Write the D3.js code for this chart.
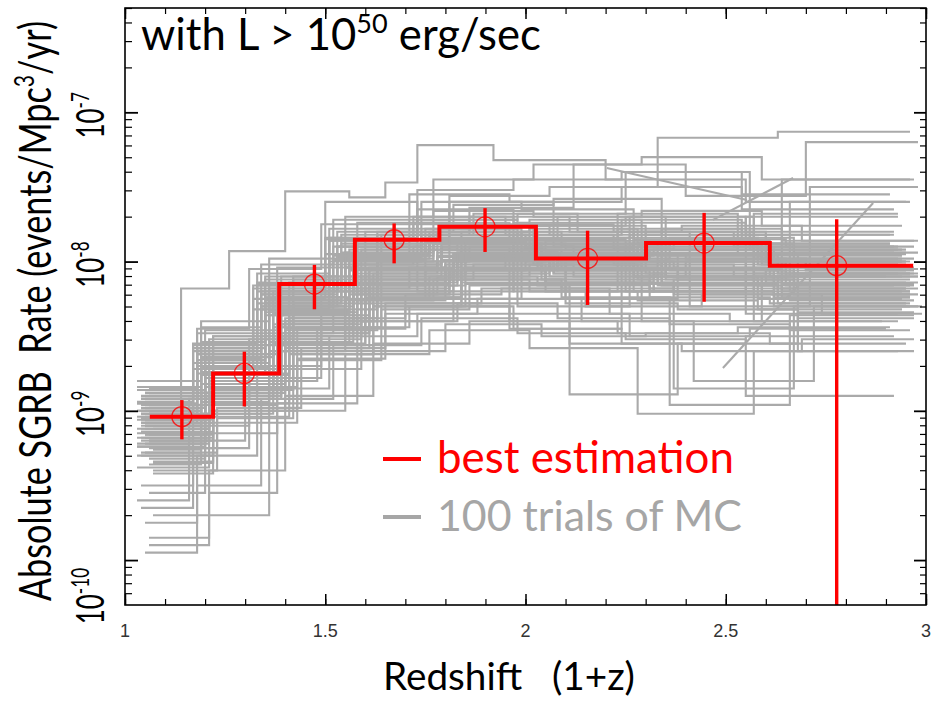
<!DOCTYPE html>
<html><head><meta charset="utf-8">
<script src="https://cdn.jsdelivr.net/npm/d3@7"></script>
<style>body{margin:0;background:#fff}text{white-space:pre}</style>
</head><body>
<svg id="chart" width="931" height="701"></svg>
<script>
// ---------------- data ----------------
const xTickValues = [1, 1.5, 2, 2.5, 3];
const xTickLabels = ["1", "1.5", "2", "2.5", "3"];
const yTickValues = [1e-10, 1e-9, 1e-8, 1e-7];
const yTickExponents = ["-10", "-9", "-8", "-7"];

// best estimation (step histogram)
const bestEdges = [1.062, 1.220, 1.385, 1.574, 1.785, 2.026, 2.301, 2.610, 2.968];
const bestRates = [9.14e-10, 1.78e-9, 7.07e-9, 1.40e-8, 1.71e-8, 1.05e-8, 1.33e-8, 9.38e-9];
const pointX = [1.142, 1.298, 1.473, 1.672, 1.899, 2.155, 2.446, 2.777];
const pointRate = [9.14e-10, 1.78e-9, 7.07e-9, 1.40e-8, 1.71e-8, 1.05e-8, 1.33e-8, 9.38e-9];
const errLow = [6.44e-10, 1.07e-9, 4.79e-9, 9.73e-9, 1.16e-8, 5.12e-9, 5.38e-9, 1e-12];
const errHigh = [1.18e-9, 2.49e-9, 9.5e-9, 1.80e-8, 2.28e-8, 1.61e-8, 2.12e-8, 1.92e-8];

// 100 Monte-Carlo trials: bin edges (1+z) and log10 rates
const mcEdges = [
[1.04,1.19,1.36,1.55,1.77,2.02,2.28,2.58,2.95],[1.05,1.21,1.40,1.60,1.82,2.06,2.33,2.64,2.97],
[1.03,1.18,1.34,1.52,1.74,1.98,2.25,2.55,2.93],[1.06,1.22,1.39,1.58,1.80,2.04,2.31,2.62,2.96],
[1.04,1.20,1.37,1.56,1.79,2.03,2.30,2.61,2.98],[1.05,1.17,1.33,1.50,1.72,1.95,2.22,2.52,2.91],
[1.07,1.23,1.42,1.62,1.85,2.10,2.38,2.68,2.97],[1.03,1.19,1.35,1.54,1.76,2.00,2.27,2.57,2.94],
[1.05,1.21,1.38,1.57,1.78,2.02,2.29,2.60,2.96],[1.04,1.20,1.41,1.63,1.86,2.12,2.40,2.70,2.98],
[1.06,1.18,1.31,1.49,1.71,1.96,2.24,2.54,2.92],[1.04,1.22,1.43,1.65,1.88,2.14,2.42,2.72,2.99],
[1.05,1.19,1.37,1.59,1.83,2.08,2.35,2.66,2.95],[1.03,1.16,1.30,1.48,1.70,1.97,2.26,2.56,2.90],
[1.06,1.20,1.36,1.54,1.75,1.99,2.27,2.59,2.94],[1.04,1.21,1.39,1.61,1.84,2.09,2.36,2.65,2.97],
[1.05,1.18,1.35,1.53,1.73,1.97,2.23,2.53,2.92],[1.07,1.22,1.41,1.60,1.81,2.05,2.32,2.63,2.96],
[1.04,1.19,1.34,1.51,1.72,1.96,2.24,2.55,2.93],[1.03,1.20,1.38,1.58,1.81,2.07,2.34,2.64,2.98],
[1.05,1.17,1.32,1.50,1.71,1.95,2.22,2.53,2.91],[1.06,1.21,1.40,1.62,1.86,2.11,2.39,2.69,2.97],
[1.04,1.18,1.36,1.56,1.78,2.03,2.30,2.60,2.95],[1.05,1.22,1.42,1.64,1.87,2.13,2.41,2.71,2.98],
[1.03,1.19,1.37,1.55,1.76,2.01,2.28,2.58,2.94],[1.06,1.20,1.35,1.53,1.74,1.99,2.26,2.57,2.93],
[1.04,1.23,1.44,1.65,1.89,2.15,2.44,2.74,2.99],[1.05,1.18,1.33,1.51,1.73,1.98,2.25,2.56,2.92],
[1.07,1.21,1.39,1.59,1.82,2.06,2.33,2.63,2.96],[1.04,1.17,1.31,1.49,1.70,1.94,2.21,2.51,2.89],
[1.05,1.20,1.38,1.57,1.79,2.04,2.31,2.61,2.95],[1.03,1.19,1.36,1.55,1.77,2.02,2.29,2.59,2.97],
[1.06,1.22,1.40,1.61,1.83,2.08,2.35,2.66,2.96],[1.04,1.18,1.34,1.52,1.75,2.00,2.27,2.58,2.94],
[1.05,1.21,1.41,1.63,1.85,2.10,2.37,2.67,2.98],[1.03,1.17,1.32,1.50,1.72,1.96,2.23,2.54,2.91],
[1.06,1.20,1.37,1.58,1.80,2.05,2.32,2.62,2.95],[1.04,1.19,1.35,1.54,1.76,2.01,2.28,2.59,2.93],
[1.05,1.22,1.43,1.64,1.87,2.12,2.40,2.70,2.97],[1.07,1.18,1.33,1.51,1.73,1.97,2.24,2.55,2.92],
[1.04,1.21,1.39,1.60,1.82,2.07,2.34,2.64,2.96],[1.05,1.20,1.36,1.55,1.78,2.03,2.30,2.60,2.95],
[1.03,1.16,1.31,1.49,1.71,1.95,2.22,2.52,2.90],[1.06,1.22,1.42,1.62,1.84,2.09,2.36,2.67,2.98],
[1.04,1.19,1.37,1.57,1.79,2.04,2.31,2.62,2.96],[1.05,1.18,1.34,1.53,1.74,1.98,2.26,2.57,2.93],
[1.03,1.21,1.40,1.61,1.84,2.10,2.38,2.68,2.97],[1.06,1.20,1.38,1.56,1.77,2.01,2.28,2.59,2.94],
[1.04,1.17,1.33,1.52,1.75,2.00,2.27,2.58,2.92],[1.05,1.22,1.41,1.63,1.86,2.11,2.39,2.69,2.98],
[1.04,1.19,1.35,1.56,1.79,2.05,2.33,2.63,2.96],[1.06,1.21,1.38,1.58,1.80,2.04,2.30,2.61,2.95],
[1.03,1.18,1.33,1.51,1.74,1.99,2.27,2.57,2.93],[1.05,1.22,1.42,1.63,1.85,2.10,2.37,2.66,2.97],
[1.04,1.20,1.37,1.55,1.76,2.00,2.27,2.58,2.94],[1.07,1.19,1.36,1.57,1.81,2.06,2.34,2.64,2.96],
[1.05,1.17,1.32,1.50,1.73,1.97,2.24,2.55,2.92],[1.03,1.21,1.40,1.60,1.82,2.07,2.35,2.65,2.97],
[1.06,1.20,1.38,1.59,1.83,2.08,2.36,2.66,2.96],[1.04,1.18,1.35,1.54,1.76,2.01,2.29,2.59,2.94],
[1.05,1.22,1.41,1.61,1.83,2.08,2.35,2.65,2.98],[1.03,1.19,1.34,1.52,1.73,1.97,2.24,2.54,2.91],
[1.06,1.21,1.39,1.59,1.81,2.05,2.32,2.62,2.95],[1.04,1.17,1.33,1.52,1.75,2.00,2.28,2.59,2.93],
[1.05,1.20,1.37,1.57,1.80,2.05,2.33,2.63,2.96],[1.07,1.22,1.43,1.64,1.86,2.11,2.38,2.68,2.97],
[1.04,1.18,1.34,1.53,1.75,1.99,2.26,2.56,2.93],[1.05,1.21,1.39,1.58,1.79,2.03,2.30,2.60,2.95],
[1.03,1.20,1.38,1.60,1.84,2.09,2.37,2.67,2.98],[1.06,1.19,1.35,1.54,1.77,2.02,2.29,2.59,2.94],
[1.04,1.22,1.42,1.62,1.85,2.10,2.38,2.68,2.97],[1.05,1.18,1.36,1.55,1.76,2.01,2.28,2.57,2.93],
[1.03,1.17,1.32,1.51,1.74,1.99,2.27,2.58,2.92],[1.06,1.21,1.40,1.61,1.83,2.07,2.34,2.64,2.96],
[1.04,1.20,1.37,1.56,1.78,2.03,2.30,2.61,2.95],[1.05,1.19,1.35,1.55,1.78,2.04,2.32,2.62,2.96],
[1.07,1.22,1.41,1.62,1.84,2.09,2.36,2.66,2.97],[1.04,1.18,1.33,1.51,1.73,1.98,2.25,2.55,2.92],
[1.05,1.21,1.38,1.57,1.79,2.04,2.31,2.61,2.95],[1.03,1.20,1.39,1.59,1.82,2.08,2.36,2.67,2.98],
[1.06,1.19,1.36,1.55,1.77,2.02,2.29,2.60,2.94],[1.04,1.17,1.31,1.49,1.71,1.96,2.23,2.53,2.91],
[1.05,1.22,1.42,1.63,1.86,2.12,2.40,2.70,2.98],[1.03,1.20,1.37,1.57,1.80,2.05,2.33,2.63,2.96],
[1.06,1.18,1.34,1.53,1.75,2.00,2.27,2.57,2.93],[1.04,1.21,1.40,1.60,1.82,2.06,2.33,2.63,2.96],
[1.05,1.19,1.36,1.56,1.78,2.03,2.31,2.61,2.95],[1.07,1.20,1.38,1.58,1.81,2.06,2.34,2.64,2.97],
[1.04,1.22,1.41,1.61,1.84,2.09,2.37,2.67,2.98],[1.05,1.18,1.34,1.52,1.74,1.98,2.25,2.55,2.92],
[1.03,1.19,1.35,1.55,1.77,2.02,2.30,2.60,2.95],[1.06,1.21,1.39,1.59,1.82,2.07,2.35,2.65,2.96],
[1.04,1.17,1.33,1.51,1.73,1.97,2.24,2.54,2.91],[1.05,1.20,1.37,1.57,1.80,2.05,2.32,2.62,2.96],
[1.03,1.22,1.42,1.63,1.85,2.10,2.37,2.67,2.97],[1.06,1.19,1.36,1.55,1.77,2.01,2.28,2.58,2.94],
[1.04,1.18,1.35,1.54,1.76,2.01,2.29,2.60,2.95],[1.05,1.21,1.40,1.60,1.83,2.08,2.35,2.65,2.97],
[1.07,1.20,1.38,1.58,1.81,2.06,2.33,2.63,2.96],
[1.03,1.14,1.26,1.40,1.56,1.65,1.73,1.92,2.20,2.55,2.96]
];
const mcLogRates = [
[-9.02,-8.71,-8.30,-7.98,-7.88,-7.95,-7.90,-8.02],[-9.15,-8.85,-8.45,-8.10,-7.95,-8.05,-8.10,-8.15],
[-8.95,-8.60,-8.22,-7.90,-7.80,-7.85,-8.20,-7.70],[-9.25,-8.90,-8.50,-8.20,-8.02,-8.12,-8.20,-8.30],
[-9.08,-8.78,-8.35,-8.05,-7.92,-8.00,-7.95,-8.10],[-8.90,-8.55,-8.15,-7.85,-7.70,-7.75,-7.80,-7.90],
[-9.40,-9.05,-8.62,-8.30,-8.15,-8.25,-7.95,-8.60],[-9.00,-8.68,-8.28,-7.95,-7.82,-7.90,-7.85,-7.98],
[-9.12,-8.80,-8.40,-8.08,-7.97,-8.02,-8.05,-8.12],[-9.05,-8.75,-8.38,-8.00,-7.90,-7.95,-7.98,-8.05],
[-8.85,-8.45,-8.05,-7.75,-7.55,-7.60,-7.50,-7.65],[-9.30,-9.00,-8.65,-8.35,-8.25,-8.40,-8.80,-8.30],
[-9.10,-8.70,-8.20,-7.92,-7.85,-7.70,-8.10,-7.60],[-9.60,-9.20,-8.80,-8.45,-8.30,-8.35,-8.50,-8.45],
[-8.98,-8.62,-8.18,-7.88,-8.25,-7.92,-8.10,-8.20],[-9.18,-8.88,-8.48,-8.12,-8.05,-7.98,-7.85,-7.90],
[-9.05,-8.58,-8.10,-7.80,-7.65,-8.20,-7.68,-7.95],[-9.35,-8.95,-8.55,-8.22,-8.10,-8.20,-8.15,-8.28],
[-8.92,-8.65,-8.32,-8.02,-7.90,-8.45,-8.00,-8.35],[-9.22,-8.82,-8.42,-8.15,-7.60,-7.90,-8.05,-8.18],
[-9.00,-8.72,-8.25,-7.95,-7.75,-7.82,-7.92,-7.88],[-9.85,-9.40,-8.90,-8.55,-8.40,-8.55,-8.60,-8.52],
[-9.08,-8.75,-8.33,-8.06,-7.96,-7.88,-7.80,-7.95],[-8.88,-8.50,-8.12,-7.82,-7.68,-7.80,-8.30,-7.50],
[-9.15,-8.92,-8.55,-8.25,-8.10,-8.02,-8.12,-8.25],[-9.02,-8.66,-8.26,-7.97,-7.84,-7.94,-8.00,-8.08],
[-9.28,-8.98,-8.58,-8.28,-8.18,-8.30,-8.22,-8.35],[-8.96,-8.60,-8.20,-7.86,-7.72,-7.68,-7.40,-7.90],
[-9.12,-8.78,-8.36,-8.05,-7.95,-8.10,-8.15,-8.10],[-9.50,-9.10,-8.70,-8.38,-8.22,-8.18,-8.35,-8.40],
[-9.04,-8.74,-8.34,-8.02,-7.90,-7.98,-7.92,-8.00],[-8.80,-8.40,-7.98,-7.70,-7.45,-7.35,-7.30,-7.45],
[-9.20,-8.86,-8.46,-8.14,-8.00,-8.06,-8.12,-8.20],[-9.06,-8.70,-8.30,-7.99,-7.87,-7.84,-7.86,-7.92],
[-9.10,-8.80,-8.40,-8.10,-7.98,-8.15,-8.85,-8.30],[-8.94,-8.58,-8.16,-7.84,-7.74,-7.86,-7.78,-7.88],
[-9.32,-9.02,-8.60,-8.26,-8.08,-8.14,-8.05,-8.18],[-9.00,-8.64,-8.24,-7.96,-7.85,-7.78,-7.88,-7.98],
[-9.16,-8.84,-8.44,-8.12,-8.02,-8.10,-8.00,-8.06],[-9.70,-9.30,-8.85,-8.50,-8.35,-8.45,-8.55,-8.50],
[-8.90,-8.52,-8.10,-7.80,-7.62,-7.58,-8.05,-7.45],[-9.08,-8.76,-8.36,-8.04,-7.94,-8.04,-8.08,-8.14],
[-9.24,-8.92,-8.52,-8.18,-8.04,-7.96,-8.02,-8.10],[-9.02,-8.70,-8.28,-8.30,-7.80,-7.90,-7.84,-7.94],
[-9.14,-8.82,-8.42,-8.10,-7.99,-8.06,-8.18,-8.22],[-8.98,-8.62,-8.20,-7.90,-7.78,-8.30,-7.70,-8.40],
[-9.38,-9.00,-8.58,-8.24,-8.12,-8.28,-8.32,-8.38],[-9.06,-8.72,-8.32,-8.00,-7.88,-7.96,-7.90,-8.00],
[-9.20,-8.88,-8.48,-8.16,-8.06,-8.00,-8.10,-8.16],[-8.92,-8.56,-8.14,-7.82,-7.70,-7.80,-7.76,-7.86],
[-9.10,-8.74,-8.34,-8.02,-7.92,-7.86,-7.96,-8.04],[-9.90,-9.55,-8.95,-8.60,-8.42,-8.50,-8.48,-8.55],
[-8.86,-8.48,-8.08,-7.78,-7.60,-7.65,-8.20,-7.68],[-9.18,-8.86,-8.46,-8.16,-8.04,-8.14,-8.22,-8.26],
[-9.04,-8.70,-8.30,-7.98,-7.86,-7.92,-7.88,-7.96],[-9.26,-8.94,-8.54,-8.22,-8.08,-8.02,-8.16,-8.24],
[-8.94,-8.60,-8.18,-7.60,-8.20,-7.82,-7.74,-7.82],[-9.12,-8.82,-8.40,-8.08,-7.96,-8.06,-8.02,-8.08],
[-9.55,-9.15,-8.72,-8.40,-8.28,-8.38,-8.42,-8.46],[-9.00,-8.66,-8.26,-7.94,-7.80,-7.72,-8.40,-8.10],
[-9.08,-8.78,-8.38,-8.06,-7.94,-8.00,-8.06,-8.10],[-8.84,-8.44,-8.02,-7.72,-7.52,-7.45,-7.40,-7.55],
[-9.22,-8.90,-8.50,-8.18,-8.06,-8.12,-8.08,-8.18],[-9.02,-8.68,-8.28,-7.96,-7.84,-7.92,-7.96,-8.02],
[-9.16,-8.84,-8.44,-8.12,-8.00,-7.94,-8.00,-8.08],[-9.42,-9.08,-8.66,-8.32,-8.16,-8.89,-8.55,-8.34],
[-8.96,-8.62,-8.22,-7.90,-7.78,-7.86,-7.82,-7.92],[-9.06,-8.74,-8.34,-8.02,-7.90,-7.98,-8.04,-8.06],
[-9.30,-8.96,-8.56,-8.24,-8.12,-8.18,-8.12,-8.22],[-8.90,-8.54,-8.12,-7.82,-7.66,-7.70,-7.66,-7.76],
[-9.14,-8.80,-8.40,-8.08,-7.96,-8.04,-8.12,-8.16],[-9.75,-9.70,-9.00,-8.62,-8.46,-8.58,-9.02,-8.60],
[-9.04,-8.72,-8.32,-8.00,-7.86,-7.80,-7.84,-7.94],[-9.20,-8.88,-8.48,-8.16,-8.04,-8.08,-8.14,-8.20],
[-8.98,-8.64,-8.24,-7.92,-7.80,-7.88,-7.86,-7.94],[-9.10,-8.76,-8.36,-8.04,-7.92,-7.96,-7.92,-8.00],
[-9.34,-9.04,-8.62,-8.28,-8.14,-8.24,-8.96,-8.36],[-8.92,-8.58,-8.16,-7.86,-7.72,-7.76,-7.70,-7.80],
[-9.06,-8.72,-8.30,-8.00,-7.88,-7.94,-7.98,-8.04],[-9.24,-8.92,-8.52,-8.20,-8.06,-8.00,-8.06,-8.14],
[-9.02,-8.68,-8.26,-7.96,-7.82,-7.90,-7.94,-8.00],[-9.65,-9.25,-8.78,-8.44,-8.30,-8.40,-8.48,-8.44],
[-8.88,-8.50,-8.10,-7.80,-7.64,-7.35,-7.56,-7.20],[-9.18,-8.84,-8.44,-8.14,-8.02,-8.10,-8.16,-8.22],
[-9.04,-8.70,-8.30,-7.98,-7.86,-7.84,-7.80,-7.90],[-9.12,-8.80,-8.40,-8.40,-7.98,-8.04,-8.00,-8.08],
[-9.28,-8.96,-8.54,-8.22,-8.10,-8.16,-8.24,-8.28],[-8.96,-8.62,-8.20,-7.88,-7.76,-7.82,-7.78,-7.86],
[-9.08,-8.76,-8.36,-8.04,-7.92,-8.00,-8.04,-8.08],[-9.95,-9.50,-8.92,-8.56,-8.38,-8.48,-8.52,-8.90],
[-9.00,-8.66,-8.24,-7.94,-7.82,-7.76,-7.82,-7.92],[-9.16,-8.82,-8.42,-8.12,-8.00,-8.08,-8.10,-8.16],
[-8.92,-8.56,-8.14,-7.84,-7.70,-7.74,-7.72,-7.82],[-9.22,-8.90,-8.50,-8.18,-8.06,-8.14,-8.20,-8.24],
[-9.06,-8.72,-8.32,-8.00,-7.88,-7.92,-7.88,-7.98],[-9.36,-9.02,-8.60,-8.26,-8.12,-8.20,-8.26,-8.32],
[-9.02,-8.68,-8.28,-7.96,-7.84,-7.88,-7.92,-8.00],[-9.10,-8.78,-8.38,-8.06,-7.94,-8.02,-7.98,-8.04],
[-8.86,-8.46,-8.04,-7.74,-7.56,-7.50,-7.17,-7.13],
[-8.95,-8.18,-7.93,-7.53,-7.57,-7.47,-7.22,-7.32,-7.45,-7.60]
];
// a few trials drawn with sloped segments: [x1, log10 rate1, x2, log10 rate2]
const mcSlopes = [[2.203,-7.373,2.553,-7.587],[2.668,-7.440,2.468,-7.721],[2.868,-7.608,2.493,-8.713]];

// ---------------- chart ----------------
const svg = d3.select("#chart");
const x = d3.scaleLinear().domain([1, 3]).range([125, 926]);
const y = d3.scaleLog().domain([5e-11, 5e-7]).range([605, 8]);
const [x0, x1] = x.range(), [y0, y1] = y.range();

svg.append("defs").append("clipPath").attr("id", "clip")
  .append("rect").attr("x", x0).attr("y", y1).attr("width", x1 - x0).attr("height", y0 - y1);
const plot = svg.append("g").attr("clip-path", "url(#clip)");

const step = d3.line().x(d => x(d[0])).y(d => y(d[1])).curve(d3.curveStepAfter);
const GRAY = "#aaaaaa", RED = "#ff0000";

mcEdges.forEach((edges, i) => {
  const v = mcLogRates[i];
  const pts = edges.map((e, j) => [e, Math.pow(10, v[Math.min(j, v.length - 1)])]);
  plot.append("path").attr("d", step(pts)).attr("fill", "none")
    .attr("stroke", GRAY).attr("stroke-width", 2.1);
});
mcSlopes.forEach(s => {
  plot.append("line").attr("x1", x(s[0])).attr("y1", y(Math.pow(10, s[1])))
    .attr("x2", x(s[2])).attr("y2", y(Math.pow(10, s[3])))
    .attr("stroke", GRAY).attr("stroke-width", 2.1);
});

// best estimation
const bestPts = bestEdges.map((e, j) => [e, bestRates[Math.min(j, bestRates.length - 1)]]);
plot.append("path").attr("d", step(bestPts)).attr("fill", "none")
  .attr("stroke", RED).attr("stroke-width", 4).attr("stroke-linejoin", "miter");
pointX.forEach((px, i) => {
  plot.append("line").attr("x1", x(px)).attr("x2", x(px))
    .attr("y1", y(errLow[i])).attr("y2", y(errHigh[i]))
    .attr("stroke", RED).attr("stroke-width", 3.4);
  plot.append("circle").attr("cx", x(px)).attr("cy", y(pointRate[i])).attr("r", 10)
    .attr("fill", "none").attr("stroke", RED).attr("stroke-opacity", 0.8).attr("stroke-width", 1.3);
});

// axes (ticks inward)
function styleAxis(g, w) { g.select(".domain").remove(); g.selectAll("line").attr("stroke", "#000").attr("stroke-width", w); g.selectAll("text").remove(); }
const xMinor = d3.range(10, 31).map(d => d / 10);
const yMinor = [];
yTickValues.concat([1e-11]).forEach(dec => { for (let k = 2; k <= 9; k++) { const v = dec * k; if (v >= 5e-11 && v <= 5e-7) yMinor.push(v); } });

svg.append("g").attr("transform", `translate(0,${y0})`).call(d3.axisBottom(x).tickValues(xMinor).tickSize(-6)).call(g => styleAxis(g, 1.2));
svg.append("g").attr("transform", `translate(0,${y0})`).call(d3.axisBottom(x).tickValues(xTickValues).tickSize(-11)).call(g => styleAxis(g, 1.5));
svg.append("g").attr("transform", `translate(0,${y1})`).call(d3.axisTop(x).tickValues(xMinor).tickSize(-6)).call(g => styleAxis(g, 1.2));
svg.append("g").attr("transform", `translate(0,${y1})`).call(d3.axisTop(x).tickValues(xTickValues).tickSize(-11)).call(g => styleAxis(g, 1.5));
svg.append("g").attr("transform", `translate(${x0},0)`).call(d3.axisLeft(y).tickValues(yMinor).tickSize(-7)).call(g => styleAxis(g, 1.2));
svg.append("g").attr("transform", `translate(${x0},0)`).call(d3.axisLeft(y).tickValues(yTickValues).tickSize(-13)).call(g => styleAxis(g, 1.8));
svg.append("g").attr("transform", `translate(${x1},0)`).call(d3.axisRight(y).tickValues(yMinor).tickSize(-6)).call(g => styleAxis(g, 1.2));
svg.append("g").attr("transform", `translate(${x1},0)`).call(d3.axisRight(y).tickValues(yTickValues).tickSize(-12)).call(g => styleAxis(g, 1.8));

svg.append("rect").attr("x", x0).attr("y", y1).attr("width", x1 - x0).attr("height", y0 - y1)
  .attr("fill", "none").attr("stroke", "#000").attr("stroke-width", 1.6);

// x tick labels
svg.append("g").selectAll("text").data(xTickValues).join("text")
  .attr("x", d => x(d)).attr("y", 637).attr("text-anchor", "middle")
  .attr("font-family", "Liberation Sans, Arial, sans-serif").attr("font-size", 18).attr("fill", "#333")
  .text((d, i) => xTickLabels[i]);

const FONT = "Lato, 'Open Sans', sans-serif";
function fit(t, target) { const len = t.node().getComputedTextLength(); t.attr("font-size", parseFloat(t.attr("font-size")) * target / len); }

// y tick labels (rotated, stretched)
yTickValues.forEach((v, i) => {
  const shift = v === 1e-10 ? 36 : 3;
  const t = svg.append("text").attr("transform", `translate(104,${y(v) + shift}) rotate(-90) scale(1,1.5)`)
    .attr("text-anchor", "middle").attr("font-family", FONT).attr("font-size", 26).attr("fill", "#000");
  t.append("tspan").text("10");
  t.append("tspan").attr("font-size", "0.66em").attr("dy", "-0.6em").text(yTickExponents[i]);
});

// y axis title
const yt = svg.append("text").attr("transform", `translate(51,311) rotate(-90) scale(1,1.3)`)
  .attr("text-anchor", "middle").attr("font-family", FONT).attr("font-size", 30).attr("fill", "#000");
yt.append("tspan").text("Absolute SGRB  Rate (events/Mpc");
yt.append("tspan").attr("font-size", "0.62em").attr("dy", "-0.62em").text("3");
yt.append("tspan").attr("dy", "0.385em").text("/yr)");
fit(yt, 580);

// x axis title
const xt = svg.append("text").attr("x", 509).attr("y", 690).attr("text-anchor", "middle")
  .attr("font-family", FONT).attr("font-size", 38).attr("fill", "#000").text("Redshift   (1+z)");
fit(xt, 252);

// annotation
const an = svg.append("text").attr("x", 141).attr("y", 50).attr("font-family", FONT).attr("font-size", 40).attr("fill", "#000");
an.append("tspan").text("with L > 10");
an.append("tspan").attr("font-size", "0.62em").attr("dy", "-0.62em").text("50");
an.append("tspan").attr("dy", "0.385em").text(" erg/sec");
fit(an, 400);

// legend
const legend = [{label: "best estimation", color: RED, y: 459, w: 297}, {label: "100 trials of MC", color: "#a6a6a6", y: 517, w: 305}];
legend.forEach(l => {
  svg.append("line").attr("x1", 383).attr("x2", 421).attr("y1", l.y).attr("y2", l.y).attr("stroke", l.color).attr("stroke-width", 4);
  const t = svg.append("text").attr("x", 437).attr("y", l.y + 14).attr("font-family", FONT).attr("font-size", 44).attr("fill", l.color).text(l.label);
  fit(t, l.w);
});
</script>
</body></html>
